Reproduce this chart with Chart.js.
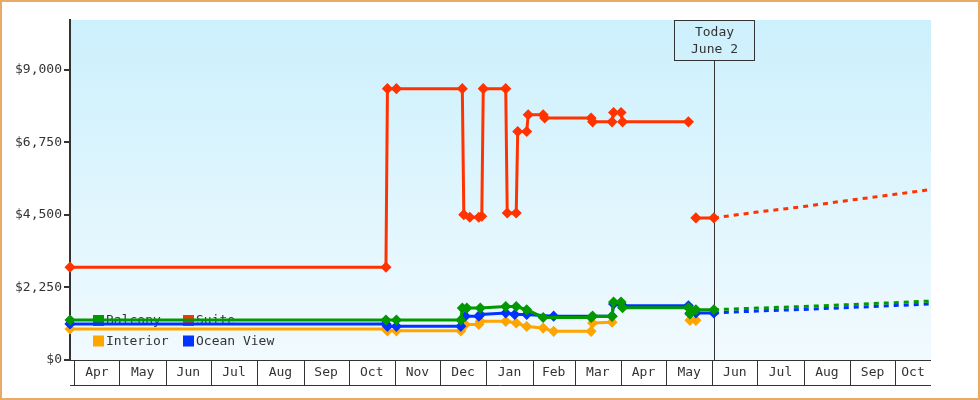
<!DOCTYPE html>
<html lang="en">
<head>
<meta charset="UTF-8">
<title>Cabin Prices</title>
<script src="https://cdn.jsdelivr.net/npm/chart.js"></script>
<style>
  body { margin: 0; background: #fff; }
  #wrap { position: relative; width: 980px; height: 400px; }
  #frame { position: absolute; left: 0; top: 0; width: 980px; height: 400px; box-sizing: border-box; border: 2px solid #e9aa66; pointer-events: none; }
</style>
</head>
<body>
<div id="wrap">
  <canvas id="priceChart" width="980" height="400"></canvas>
  <div id="frame"></div>
</div>
<script>
const FONT = '"DejaVu Sans Mono", monospace';
const INK = '#333';

const startDate = '2018-03-29';
const endDate = '2019-10-25';
const todayDate = '2019-06-02';
const todayLines = ['Today', 'June 2'];

const monthStarts = ['2018-04-01', '2018-05-01', '2018-06-01', '2018-07-01', '2018-08-01', '2018-09-01',
  '2018-10-01', '2018-11-01', '2018-12-01', '2019-01-01', '2019-02-01', '2019-03-01', '2019-04-01',
  '2019-05-01', '2019-06-01', '2019-07-01', '2019-08-01', '2019-09-01', '2019-10-01', '2019-11-01'];
const monthLabels = ['Apr', 'May', 'Jun', 'Jul', 'Aug', 'Sep', 'Oct', 'Nov', 'Dec', 'Jan',
  'Feb', 'Mar', 'Apr', 'May', 'Jun', 'Jul', 'Aug', 'Sep', 'Oct'];

const yTicks = [0, 2250, 4500, 6750, 9000];
const yMax = 10550;

// price history (null = no price, line breaks)
const suiteDates = ['2018-03-29', '2018-10-26', '2018-10-27', '2018-11-02', '2018-12-16', '2018-12-17',
  '2018-12-21', '2018-12-27', '2018-12-29', '2018-12-30', '2019-01-14', '2019-01-15', '2019-01-21',
  '2019-01-22', '2019-01-28', '2019-01-29', '2019-02-08', '2019-02-09', '2019-03-12', '2019-03-13',
  '2019-03-26', '2019-03-27', '2019-04-01', '2019-04-02', '2019-05-16', '2019-05-18', '2019-05-21', '2019-06-02'];
const suiteValues = [2880, 2880, 8420, 8420, 8420, 4510, 4430, 4430, 4460, 8420, 8420, 4560, 4560,
  7090, 7090, 7610, 7610, 7510, 7510, 7390, 7390, 7680, 7680, 7390, 7390, null, 4410, 4410];

const balconyDates = ['2018-03-29', '2018-10-26', '2018-11-02', '2018-12-15', '2018-12-16', '2018-12-19',
  '2018-12-28', '2019-01-14', '2019-01-21', '2019-01-28', '2019-02-08', '2019-03-12', '2019-03-13',
  '2019-03-26', '2019-03-27', '2019-04-01', '2019-04-02', '2019-05-16', '2019-05-17', '2019-05-21', '2019-06-02'];
const balconyValues = [1240, 1240, 1240, 1240, 1610, 1610, 1610, 1660, 1660, 1560, 1320, 1320, 1360,
  1360, 1800, 1800, 1620, 1620, 1430, 1560, 1560];

const oceanDates = ['2018-03-29', '2018-10-26', '2018-10-27', '2018-11-02', '2018-12-15', '2018-12-18',
  '2018-12-27', '2018-12-28', '2019-01-14', '2019-01-20', '2019-01-28', '2019-02-15', '2019-03-26',
  '2019-03-27', '2019-04-01', '2019-04-02', '2019-05-16', '2019-05-17', '2019-05-21', '2019-06-02'];
const oceanValues = [1120, 1120, 1045, 1045, 1045, 1360, 1360, 1410, 1460, 1410, 1410, 1360, 1360,
  1740, 1740, 1680, 1680, 1450, 1460, 1460];

const interiorDates = ['2018-03-29', '2018-10-26', '2018-10-27', '2018-11-02', '2018-12-15', '2018-12-18',
  '2018-12-27', '2018-12-28', '2019-01-14', '2019-01-21', '2019-01-28', '2019-02-08', '2019-02-15',
  '2019-03-12', '2019-03-13', '2019-03-26', '2019-04-20', '2019-05-17', '2019-05-21'];
const interiorValues = [960, 960, 905, 905, 905, 1100, 1100, 1200, 1200, 1150, 1040, 990, 890,
  890, 1150, 1170, null, 1230, 1230];

// projection after today
const projDates = ['2019-06-02', '2019-07-01', '2019-08-01', '2019-09-01', '2019-10-01', '2019-10-25'];
const suiteProj = [4410, 4590, 4760, 4960, 5140, 5290];
const balconyProj = [1560, 1610, 1660, 1720, 1780, 1830];
const oceanProj = [1460, 1520, 1570, 1630, 1690, 1740];

const colors = { Balcony: '#009900', Suite: '#ff3300', Interior: '#ffa500', 'Ocean View': '#0033ff' };
const legendOrder = ['Balcony', 'Suite', 'Interior', 'Ocean View'];

function dayNum(s) {
  const [y, m, d] = s.split('-').map(Number);
  return (Date.UTC(y, m - 1, d) - Date.UTC(2018, 3, 1)) / 864e5;
}
function toPoints(dates, values) {
  return dates.map((d, i) => ({ x: dayNum(d), y: values[i] }));
}

function history(label, dates, values, order) {
  const c = colors[label];
  return {
    label: label, data: toPoints(dates, values), order: order,
    borderColor: c, backgroundColor: c, borderWidth: 3,
    pointStyle: 'rectRot', pointRadius: 4.5, pointBorderWidth: 1.5,
    pointBackgroundColor: c, pointBorderColor: c, spanGaps: false, clip: false
  };
}
function projection(label, values, order) {
  const c = colors[label];
  return {
    label: label + ' projection', data: toPoints(projDates, values), order: order,
    borderColor: c, borderWidth: 3, borderDash: [5, 5], pointRadius: 0, clip: false
  };
}

const chartDecor = {
  id: 'chartDecor',
  beforeDraw(chart) {
    const { ctx, chartArea: a } = chart;
    const g = ctx.createLinearGradient(0, a.top, 0, a.bottom);
    g.addColorStop(0, '#ccf0fc');
    g.addColorStop(1, '#f1faff');
    ctx.save();
    ctx.fillStyle = g;
    ctx.fillRect(a.left, a.top, a.right - a.left, a.bottom - a.top);
    ctx.restore();
  },
  beforeDatasetsDraw(chart) {
    const { ctx, chartArea: a } = chart;
    const x = chart.scales.x;
    ctx.save();
    // today marker
    const tx = Math.round(x.getPixelForValue(dayNum(todayDate))) + 0.5;
    ctx.strokeStyle = INK;
    ctx.lineWidth = 1;
    ctx.strokeRect(tx - 40, a.top + 0.5, 80, 40);
    ctx.beginPath();
    ctx.moveTo(tx, a.top + 40.5);
    ctx.lineTo(tx, a.bottom);
    ctx.stroke();
    ctx.fillStyle = INK;
    ctx.font = '13px ' + FONT;
    ctx.textAlign = 'center';
    ctx.textBaseline = 'middle';
    ctx.fillText(todayLines[0], tx, a.top + 12.5);
    ctx.fillText(todayLines[1], tx, a.top + 30);
    // legend, under the lines
    ctx.textAlign = 'left';
    legendOrder.forEach((label, i) => {
      const col = i % 2, row = Math.floor(i / 2);
      const lx = a.left + 23 + col * 90;
      const ly = a.bottom - 40 + row * 20.5;
      ctx.fillStyle = colors[label];
      ctx.fillRect(lx, ly - 5, 11, 11);
      ctx.fillStyle = INK;
      ctx.fillText(label, lx + 13, ly + 1);
    });
    ctx.restore();
  },
  afterDraw(chart) {
    const { ctx, chartArea: a } = chart;
    const x = chart.scales.x;
    const top = a.bottom + 0.5, bot = a.bottom + 25.5;
    ctx.save();
    ctx.strokeStyle = INK;
    ctx.lineWidth = 1;
    ctx.beginPath();
    ctx.moveTo(a.left, top); ctx.lineTo(a.right, top);
    ctx.moveTo(a.left, bot); ctx.lineTo(a.right, bot);
    ctx.fillStyle = INK;
    ctx.font = '13px ' + FONT;
    ctx.textAlign = 'center';
    ctx.textBaseline = 'middle';
    monthLabels.forEach((m, i) => {
      const x0 = x.getPixelForValue(dayNum(monthStarts[i]));
      const x1 = x.getPixelForValue(dayNum(monthStarts[i + 1]));
      if (x0 >= a.left && x0 <= a.right) {
        const px = Math.round(x0) + 0.5;
        ctx.moveTo(px, top); ctx.lineTo(px, bot);
      }
      const l = Math.max(x0, a.left + 4), r = Math.min(x1, a.right);
      if (r > l) ctx.fillText(m, (l + r) / 2, a.bottom + 13);
    });
    ctx.stroke();
    ctx.restore();
  }
};

new Chart(document.getElementById('priceChart'), {
  type: 'line',
  data: {
    datasets: [
      history('Balcony', balconyDates, balconyValues, 1),
      history('Ocean View', oceanDates, oceanValues, 2),
      history('Interior', interiorDates, interiorValues, 3),
      history('Suite', suiteDates, suiteValues, 0),
      projection('Balcony', balconyProj, 1),
      projection('Ocean View', oceanProj, 2),
      projection('Suite', suiteProj, 0)
    ]
  },
  options: {
    responsive: false,
    animation: false,
    layout: { padding: { top: 20, bottom: 40, left: 0, right: 49 } },
    plugins: { legend: { display: false }, tooltip: { enabled: false } },
    elements: { line: { tension: 0 } },
    scales: {
      x: {
        type: 'linear', display: false,
        min: dayNum(startDate), max: dayNum(endDate)
      },
      y: {
        min: 0, max: yMax,
        afterBuildTicks: s => { s.ticks = yTicks.map(v => ({ value: v })); },
        afterFit: s => { s.width = 70; },
        border: { display: true, color: INK, width: 2 },
        grid: { drawOnChartArea: false, drawTicks: true, tickLength: 6, color: INK, lineWidth: 2 },
        ticks: {
          color: INK, padding: 2,
          font: { family: FONT, size: 13 },
          callback: v => '$' + v.toLocaleString('en-US')
        }
      }
    }
  },
  plugins: [chartDecor]
});
</script>
</body>
</html>
